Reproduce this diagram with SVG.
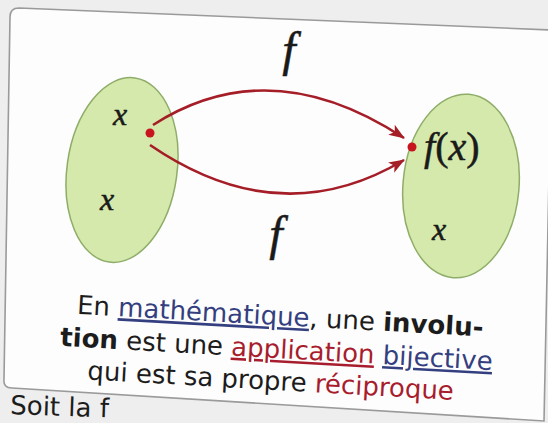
<svg xmlns="http://www.w3.org/2000/svg" width="548" height="423" viewBox="0 0 548 423">
  <style>
    .math { font-family: "Liberation Serif", "Times New Roman", serif; font-style: italic; fill: #1a1a1a; stroke: #1a1a1a; stroke-width: 0.5; }
    .up { font-style: normal; }
    .set { fill: #d4e9ab; stroke: #8ead68; stroke-width: 1.5; }
    .arc { fill: none; stroke: #a51d27; stroke-width: 2.6; }
    .dot { fill: #c8141e; }
    .cap { font-family: "DejaVu Sans", "Noto Sans", sans-serif; font-size: 26px; fill: #1c1c1c; text-anchor: middle; }
    .b { font-weight: bold; }
    .blue { fill: #343f80; text-decoration: underline; }
    .red { fill: #a81d2e; }
    .redu { fill: #a81d2e; text-decoration: underline; }
  </style>
  <defs>
    <marker id="head" markerUnits="userSpaceOnUse" markerWidth="16" markerHeight="12" refX="15" refY="6" orient="auto">
      <path d="M0,0 L16,6 L0,12 L4,6 Z" fill="#a51d27"/>
    </marker>
  </defs>

  <rect x="0" y="0" width="548" height="423" fill="#eeeeee"/>

  <g id="box">
    <path d="M 19,8 L 552,30 L 544,421 L 12,388 Q 3,388 4,379 L 10,17 Q 10,8 19,8 Z" fill="#fdfdfd" stroke="#9a9a9a" stroke-width="1.6"/>
  </g>

  <g id="set-left">
    <ellipse class="set" cx="122" cy="170" rx="55" ry="93" transform="rotate(8 122 170)"/>
    <text class="math" x="120" y="125" font-size="32" text-anchor="middle">x</text>
    <text class="math" x="107" y="210" font-size="32" text-anchor="middle">x</text>
    <circle class="dot" cx="150" cy="133" r="4.5"/>
  </g>

  <g id="set-right">
    <ellipse class="set" cx="461" cy="186" rx="58" ry="92" transform="rotate(5 461 186)"/>
    <text class="math" x="424" y="160" font-size="40">f<tspan class="up">(</tspan>x<tspan class="up">)</tspan></text>
    <text class="math" x="439" y="240" font-size="32" text-anchor="middle">x</text>
    <circle class="dot" cx="412" cy="147" r="4.5"/>
  </g>

  <g id="connectors">
    <path class="arc" d="M153,125 Q270,50 404,138" marker-end="url(#head)"/>
    <path class="arc" d="M150,145 Q280,234 404,160" marker-end="url(#head)"/>
  </g>

  <g id="labels">
    <text class="math" x="289" y="66" font-size="48" text-anchor="middle">f</text>
    <text class="math" x="276" y="250" font-size="48" text-anchor="middle">f</text>
  </g>

  <g id="caption" transform="rotate(3.2 277 358)">
    <text class="cap" x="278" y="325">En <tspan class="blue">mathématique</tspan>, une <tspan class="b">involu-</tspan></text>
    <text class="cap" x="276" y="358"><tspan class="b">tion</tspan> est une <tspan class="redu">application</tspan> <tspan class="blue">bijective</tspan></text>
    <text class="cap" x="272" y="390">qui est sa propre <tspan class="red">réciproque</tspan></text>
  </g>

  <g id="footer" transform="rotate(2 10 414)">
    <text class="cap" x="10" y="414" style="text-anchor:start" font-size="22">Soit la f</text>
  </g>
</svg>
